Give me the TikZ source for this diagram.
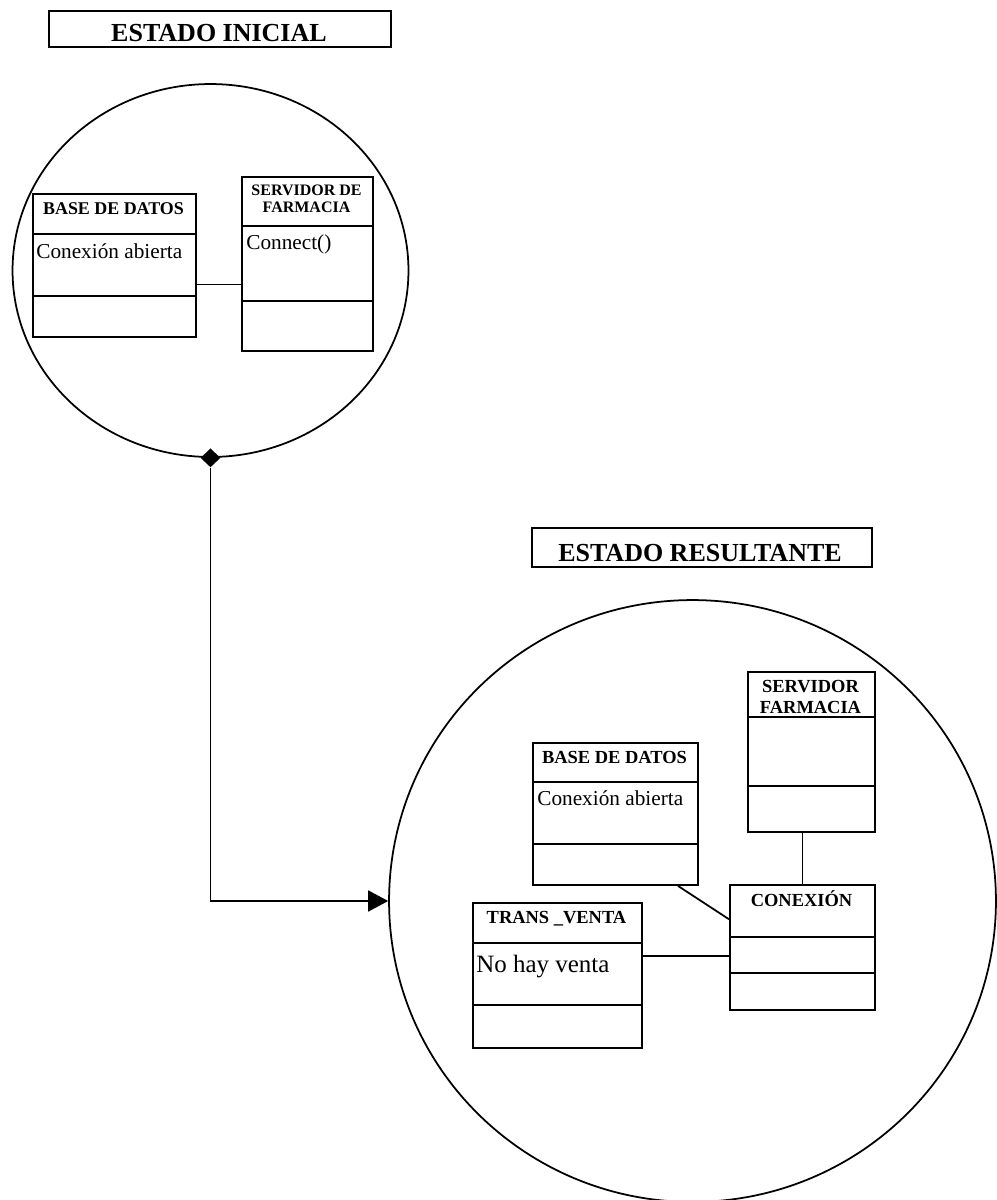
\documentclass[tikz,border=0pt]{standalone}
\usepackage{fontspec}
\setmainfont{Liberation Serif}
\usetikzlibrary{arrows.meta,shapes.geometric}

\tikzset{
  caja/.style={line width=1.1pt},
  clase/.style={draw,caja,inner sep=0pt,anchor=north west},
  estado/.style={draw,ellipse,line width=1pt,inner sep=0pt},
  enlace/.style={line width=1pt},
  titulo/.style={font=\fontsize{14.8}{16}\selectfont\bfseries,inner sep=0pt,anchor=base},
  nombre/.style={font=\fontsize{10.5}{12}\selectfont\bfseries,inner sep=0pt,align=center},
  texto/.style={font=\fontsize{12.1}{14}\selectfont,inner sep=0pt,anchor=base west},
  rombo/.style={diamond,fill=black,inner sep=0pt,minimum width=0.4cm,minimum height=0.38cm},
}

\begin{document}
\begin{tikzpicture}[x=0.02cm,y=-0.02cm]
\useasboundingbox (0,0) rectangle (997,1200);

% titulos
\draw[caja] (49,11) rectangle (391,47);
\node[titulo] (tituloA) at (219,41) {ESTADO INICIAL};
\draw[caja] (532,528) rectangle (872,567);
\node[titulo] (tituloB) at (700,561) {ESTADO RESULTANTE};

% estado inicial
\node[estado,minimum width=7.92cm,minimum height=7.46cm] (circA) at (210.5,270.5) {};
\node[clase,minimum width=3.26cm,minimum height=2.86cm] (bdA) at (32,193) {};
\draw[caja] (32,234) -- (195,234) (32,296) -- (195,296);
\node[nombre,font=\fontsize{10.2}{12}\selectfont\bfseries,anchor=base] (bdAn) at (113.5,214) {BASE DE DATOS};
\node[texto] (bdAt) at (36,258) {Conexión abierta};
\node[clase,minimum width=2.62cm,minimum height=3.48cm] (servA) at (241,176) {};
\draw[caja] (241,226) -- (372,226) (241,301) -- (372,301);
\node[nombre,font=\fontsize{9.1}{9.7}\selectfont\bfseries] (servAn) at (306.5,199) {SERVIDOR DE\\FARMACIA};
\node[texto] (servAt) at (246,249) {Connect()};
\draw[enlace] (bdA.-13) -- (bdA.-13 -| servA.west);

% estado resultante
\node[estado,minimum width=12.14cm,minimum height=12.04cm] (circB) at (692.5,901) {};
\node[clase,minimum width=2.54cm,minimum height=3.2cm] (servB) at (747,671) {};
\draw[caja] (747,717) -- (874,717) (747,786) -- (874,786);
\node[nombre,font=\fontsize{10.5}{11.95}\selectfont\bfseries] (servBn) at (810.5,696.5) {SERVIDOR\\FARMACIA};
\node[clase,minimum width=3.3cm,minimum height=2.84cm] (bdB) at (532,742) {};
\draw[caja] (532,782) -- (697,782) (532,844) -- (697,844);
\node[nombre,anchor=base] (bdBn) at (614.5,763) {BASE DE DATOS};
\node[texto] (bdBt) at (537,805) {Conexión abierta};
\node[clase,minimum width=2.9cm,minimum height=2.5cm] (conB) at (729,884) {};
\draw[caja] (729,937) -- (874,937) (729,973) -- (874,973);
\node[nombre,anchor=base] (conBn) at (801.5,906) {CONEXIÓN};
\node[clase,minimum width=3.38cm,minimum height=2.9cm] (transB) at (472,902) {};
\draw[caja] (472,943) -- (641,943) (472,1005) -- (641,1005);
\node[nombre,anchor=base] (transBn) at (556.5,923) {TRANS \_VENTA};
\node[texto,font=\fontsize{14.2}{16}\selectfont] (transBt) at (476,972) {No hay venta};
\draw[enlace] (conB.north) -- (conB.north |- servB.south);
\draw[enlace] (bdB.-49) -- (conB.159);
\draw[enlace] (transB.13) -- (transB.13 -| conB.west);

% transicion
\node[rombo] (union) at (circA.south) {};
\draw[enlace,-{Triangle[length=0.4cm,width=0.42cm]}] (union.south) |- (circB.west);
\end{tikzpicture}
\end{document}
